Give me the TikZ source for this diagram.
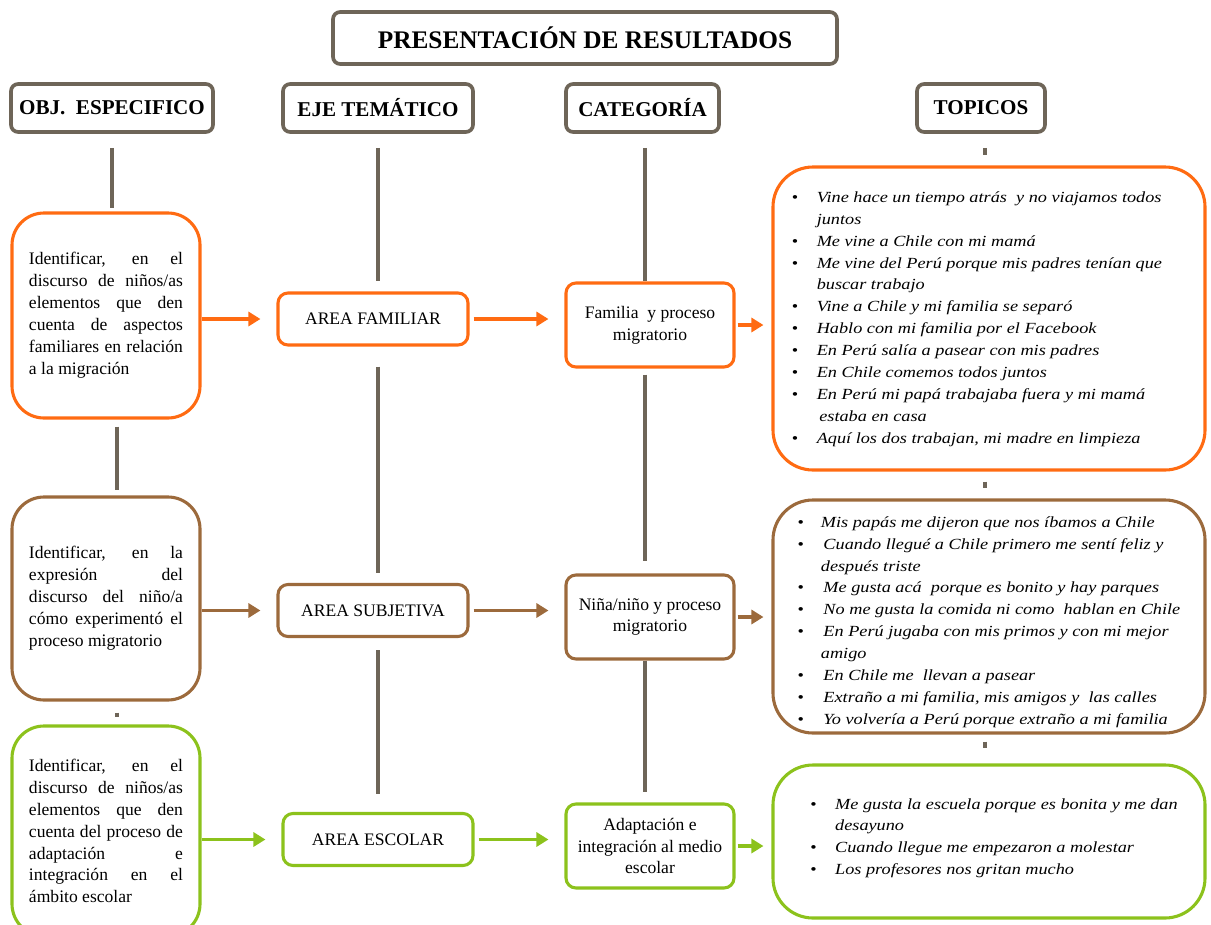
\documentclass[tikz,border=0pt]{standalone}
\usepackage{fontspec}
\setmainfont{Liberation Serif}
\newfontfamily\topicfont[FakeStretch=1.18]{Liberation Serif}
\usetikzlibrary{arrows.meta,positioning,calc}
\definecolor{naranja}{HTML}{FF6B12}
\definecolor{cafe}{HTML}{9C6A3C}
\definecolor{verde}{HTML}{8CC21C}
\definecolor{gris}{HTML}{6E6558}
\newcommand{\bul}{{\upshape\textbullet}}

\begin{document}
\begin{tikzpicture}[x=0.25mm, y=-0.25mm,
  head/.style={draw=gris, line width=2.6pt, rounded corners=1.8mm, inner sep=0pt,
    minimum height=12mm, font=\fontsize{15}{17}\selectfont\bfseries},
  objbox/.style={draw=#1, line width=2.2pt, rounded corners=8mm, inner sep=0pt,
    minimum width=47mm, text width=38.5mm, align=justify,
    font=\fontsize{12.5}{15.6}\selectfont},
  area/.style={draw=#1, line width=2.2pt, rounded corners=2.5mm, inner sep=0pt,
    minimum width=47.5mm, minimum height=13mm, font=\fontsize{12.5}{15.6}\selectfont},
  cat/.style={draw=#1, line width=2.2pt, rounded corners=2.5mm, inner sep=0pt,
    minimum width=42mm, minimum height=21mm, align=center,
    font=\fontsize{12.5}{15.6}\selectfont},
  topic/.style={draw=#1, line width=2.2pt, rounded corners=10mm, inner sep=0pt,
    minimum width=108mm, font=\topicfont\itshape\fontsize{11}{15.6}\selectfont},
  vline/.style={draw=gris, line width=2.4pt},
  arr/.style={draw=#1, line width=2.2pt, -{Triangle[length=3mm,width=3.5mm]}}
]
\useasboundingbox (0,0) rectangle (1211,924);

% titulo y encabezados
\node[head, minimum width=126mm, minimum height=13mm, font=\fontsize{18}{21}\selectfont\bfseries]
  (titulo) at (585,38) {PRESENTACIÓN DE RESULTADOS};
\node[head, minimum width=50.5mm] (hobj) at (112,108) {OBJ.\enspace ESPECIFICO};
\node[head, minimum width=47.5mm] (heje) at (378,108) {EJE TEMÁTICO};
\node[head, minimum width=38.25mm] (hcat) at (642.5,108) {CATEGORÍA};
\node[head, minimum width=32mm] (htop) at (981,108) {TOPICOS};

% objetivos especificos
\node[objbox=naranja, minimum height=51.25mm] (obj1) at (106,315.5)
  {Identificar, en el\linebreak discurso de niños/as\linebreak elementos que den\linebreak
   cuenta de aspectos\linebreak familiares en relación\linebreak a la migración};
\node[objbox=cafe, minimum height=50.75mm] (obj2) at (106,598.5)
  {Identificar, en la\linebreak expresión del\linebreak discurso del niño/a\linebreak
   cómo experimentó el\linebreak proceso migratorio};
\node[objbox=verde, minimum height=52.5mm] (obj3) at (106,831)
  {Identificar, en el\linebreak discurso de niños/as\linebreak elementos que den\linebreak
   cuenta del proceso de\linebreak adaptación e\linebreak integración en el\linebreak ámbito escolar};

% ejes tematicos
\node[area=naranja] (area1) at (373,319) {AREA FAMILIAR};
\node[area=cafe] (area2) at (373,610.5) {AREA SUBJETIVA};
\node[area=verde] (area3) at (378,839.5) {AREA ESCOLAR};

% categorias
\node[cat=naranja] (cat1) at (650,325) {Familia \ y proceso\\migratorio};
\node[cat=cafe] (cat2) at (650,617) {Niña/niño y proceso\\migratorio};
\node[cat=verde] (cat3) at (650,846) {Adaptación e\\integración al medio\\escolar};

% topicos
\node[topic=naranja, minimum height=75.75mm] (top1) at (989,318.5) {%
  \begin{tabular}{@{}l@{\hspace{4.6mm}}l@{\hspace{6mm}}}
  \bul & Vine hace un tiempo atrás \ y no viajamos todos\\
       & juntos\\
  \bul & Me vine a Chile con mi mamá\\
  \bul & Me vine del Perú porque mis padres tenían que\\
       & buscar trabajo\\
  \bul & Vine a Chile y mi familia se separó\\
  \bul & Hablo con mi familia por el Facebook\\
  \bul & En Perú salía a pasear con mis padres\\
  \bul & En Chile comemos todos juntos\\
  \bul & En Perú mi papá trabajaba fuera y mi mamá\\
       & \,estaba en casa\\
  \bul & Aquí los dos trabajan, mi madre en limpieza
  \end{tabular}};
\node[topic=cafe, minimum height=58.25mm] (top2) at (989,616.5) {%
  \begin{tabular}{@{}l@{\hspace{4.2mm}}l@{}}
  \\[-3mm]
  \bul & Mis papás me dijeron que nos íbamos a Chile\\
  \bul & \,Cuando llegué a Chile primero me sentí feliz y\\
       & después triste\\
  \bul & \,Me gusta acá \ porque es bonito y hay parques\\
  \bul & \,No me gusta la comida ni como \ hablan en Chile\\
  \bul & \,En Perú jugaba con mis primos y con mi mejor\\
       & amigo\\
  \bul & \,En Chile me \ llevan a pasear\\
  \bul & \,Extraño a mi familia, mis amigos y \ las calles\\
  \bul & \,Yo volvería a Perú porque extraño a mi familia
  \end{tabular}};
\node[topic=verde, minimum height=38.25mm] (top3) at (989,841.5) {%
  \begin{tabular}{@{\hspace{2.5mm}}l@{\hspace{4.6mm}}l@{}}
  \bul & Me gusta la escuela porque es bonita y me dan\\
       & desayuno\\
  \bul & Cuando llegue me empezaron a molestar\\
  \bul & Los profesores nos gritan mucho\\[2mm]
  \end{tabular}};

% lineas verticales
\draw[vline, shorten <=3.5mm, shorten >=0.75mm] (hobj.south) -- (hobj.south |- obj1.north);
\draw[vline, shorten <=1.75mm, shorten >=1.25mm] ([xshift=2.75mm]obj1.south) -- ([xshift=2.75mm]obj2.north);
\draw[vline, shorten <=2.75mm, shorten >=1.75mm] ([xshift=2.75mm]obj2.south) -- ([xshift=2.75mm]obj3.north);

\draw[vline, shorten <=3.5mm, shorten >=2.5mm] (heje.south) -- (heje.south |- area1.north);
\draw[vline, shorten <=5mm, shorten >=2.5mm] (area1.south -| heje.south) -- (area2.north -| heje.south);
\draw[vline, shorten <=3mm, shorten >=4.5mm] (area2.south -| heje.south) -- (area3.north -| heje.south);

\draw[vline, shorten <=3.5mm] ([xshift=0.6mm]hcat.south) -- ([xshift=0.6mm]hcat.south |- cat1.north);
\draw[vline, shorten <=1.5mm, shorten >=3mm] ([xshift=0.6mm]cat1.south -| hcat.south) -- ([xshift=0.6mm]cat2.north -| hcat.south);
\draw[vline, shorten >=2.5mm] ([xshift=0.6mm]cat2.south -| hcat.south) -- ([xshift=0.6mm]cat3.north -| hcat.south);

\draw[vline, shorten <=3.5mm, shorten >=2.5mm] ([xshift=1mm]htop.south) -- ([xshift=1mm]htop.south |- top1.north);
\draw[vline, shorten <=2.5mm, shorten >=2.5mm] ([xshift=1mm]top1.south -| htop.south) -- ([xshift=1mm]top2.north -| htop.south);
\draw[vline, shorten <=1.75mm, shorten >=3.75mm] ([xshift=1mm]top2.south -| htop.south) -- ([xshift=1mm]top3.north -| htop.south);

% flechas
\foreach \c/\i in {naranja/1,cafe/2,verde/3} {
  \draw[arr=\c, shorten >=4mm] (obj\i.east |- area\i.west) -- (area\i.west);
  \draw[arr=\c, shorten <=1mm, shorten >=4mm] (area\i.east) -- (area\i.east -| cat\i.west);
  \draw[arr=\c, shorten <=0.5mm, shorten >=2mm] (cat\i.east) -- (cat\i.east -| top\i.west);
}
\end{tikzpicture}
\end{document}
